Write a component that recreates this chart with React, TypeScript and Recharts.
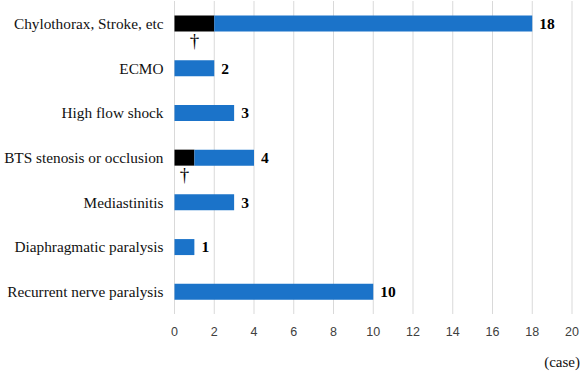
import { BarChart, Bar, XAxis, YAxis, CartesianGrid, LabelList } from "recharts";

const categories = [
  "Chylothorax, Stroke, etc",
  "ECMO",
  "High flow shock",
  "BTS stenosis or occlusion",
  "Mediastinitis",
  "Diaphragmatic paralysis",
  "Recurrent nerve paralysis",
];
const totals = [18, 2, 3, 4, 3, 1, 10];
const deaths = [2, 0, 0, 1, 0, 0, 0];
const xTicks = [0, 2, 4, 6, 8, 10, 12, 14, 16, 18, 20];

const data = categories.map((name, i) => ({
  name,
  total: totals[i],
  death: deaths[i],
  alive: totals[i] - deaths[i],
}));

const BLUE = "#1b73c9";
const SERIF = "'Liberation Serif', 'Times New Roman', serif";

function Dagger(props: any) {
  const { x, y, width, height, value } = props;
  if (!value) return null;
  return (
    <text
      x={x + width / 2}
      y={y + height + 15}
      textAnchor="middle"
      fontFamily={SERIF}
      fontSize={19}
      fill="#000"
    >
      †
    </text>
  );
}

function TotalLabel(props: any) {
  const { x, y, width, height, index } = props;
  return (
    <text
      x={x + width + 7}
      y={y + height / 2}
      dy="0.35em"
      fontFamily={SERIF}
      fontSize={15.5}
      fontWeight="bold"
      fill="#000"
    >
      {totals[index]}
    </text>
  );
}

export default function App() {
  return (
    <div style={{ position: "relative", width: 585, height: 372, background: "#fff" }}>
      <style>{`body{margin:0}`}</style>
      <BarChart
        width={585}
        height={372}
        layout="vertical"
        data={data}
        margin={{ top: 1, right: 13, bottom: 0, left: 0 }}
        barCategoryGap={14.5}
      >
        <CartesianGrid horizontal={false} stroke="#d9d9d9" />
        <XAxis
          type="number"
          domain={[0, 20]}
          ticks={xTicks}
          axisLine={false}
          tickLine={false}
          tickMargin={7}
          height={58}
          tick={{ fontSize: 12.5, fill: "#404040", fontFamily: "'Liberation Sans', Arial, sans-serif" }}
        />
        <YAxis
          type="category"
          dataKey="name"
          width={174.5}
          axisLine={false}
          tickLine={false}
          tickMargin={5}
          tick={{ fontSize: 15.3, fill: "#111", fontFamily: SERIF }}
        />
        <Bar dataKey="death" stackId="a" fill="#000" isAnimationActive={false}>
          <LabelList dataKey="death" content={<Dagger />} />
        </Bar>
        <Bar dataKey="alive" stackId="a" fill={BLUE} isAnimationActive={false}>
          <LabelList dataKey="total" content={<TotalLabel />} />
        </Bar>
      </BarChart>
      <div
        style={{
          position: "absolute",
          right: 5,
          top: 354,
          fontFamily: SERIF,
          fontSize: 15,
          color: "#111",
        }}
      >
        (case)
      </div>
    </div>
  );
}
